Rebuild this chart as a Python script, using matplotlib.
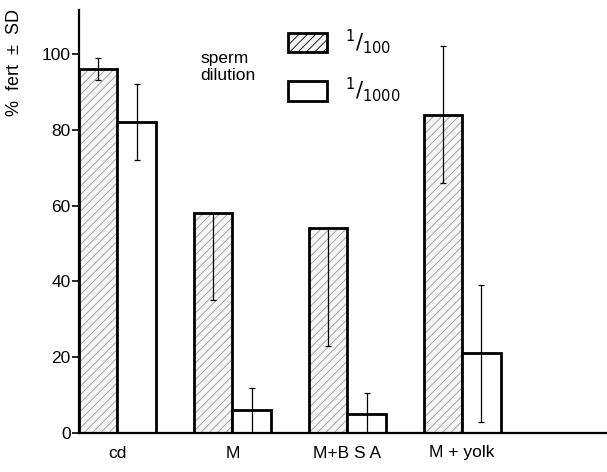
import numpy as np
import matplotlib
matplotlib.use("Agg")
import matplotlib.pyplot as plt
from matplotlib.patches import Patch

plt.rcParams['font.family'] = ['Liberation Sans', 'DejaVu Sans']
plt.rcParams['hatch.linewidth'] = 0.6

groups = ["cd", "M", "M+B S A", "M + yolk"]
pct_100 = [96, 58, 54, 84]
sd_100_lo = [3, 23, 31, 18]
sd_100_hi = [3, 0, 0, 18]
pct_1000 = [82, 6, 5, 21]
sd_1000 = [10, 6, 5.5, 18]

x = np.arange(len(groups))
w = 0.335

fig = plt.figure(figsize=(6.07, 4.72), dpi=100)
ax = fig.add_axes([79 / 607, 39 / 472, 1 - 79 / 607, 423 / 472])

# hatched 1/100 bars: hatch layer then thick outline
ax.bar(x - w / 2, pct_100, w, color='#f5f5f5', edgecolor='#999999',
       hatch='////', linewidth=0)
ax.bar(x - w / 2, pct_100, w, fill=False, edgecolor='black', linewidth=2)
ax.bar(x + w / 2, pct_1000, w, color='white', edgecolor='black', linewidth=2)

ax.errorbar(x - w / 2, pct_100, yerr=[sd_100_lo, sd_100_hi], fmt='none',
            ecolor='black', elinewidth=0.9, capsize=2.5, capthick=0.9, zorder=3)
ax.errorbar(x + w / 2, pct_1000, yerr=sd_1000, fmt='none',
            ecolor='black', elinewidth=0.9, capsize=2.5, capthick=0.9, zorder=3)

ax.set_xlim(-w, 4.26)
ax.set_ylim(0, 111.6)
ax.set_yticks([0, 20, 40, 60, 80, 100])
ax.set_xticks(x)
ax.set_xticklabels(groups, fontsize=12.5)
ax.tick_params(axis='x', length=0, pad=9)
ax.tick_params(axis='y', length=5, width=1.2, pad=1, labelsize=12.5)

for s in ['top', 'right']:
    ax.spines[s].set_visible(False)
ax.spines['left'].set_linewidth(1.6)
ax.spines['bottom'].set_linewidth(1.6)

fig.text(15 / 607, 1 - 62 / 472, "%  fert  ±  SD", rotation=90,
         ha='center', va='center', fontsize=13)

handles = [Patch(facecolor='#f5f5f5', edgecolor='black', hatch='////', linewidth=2),
           Patch(facecolor='white', edgecolor='black', linewidth=2)]
ax.legend(handles, [r'$^{1}/_{100}$', r'$^{1}/_{1000}$'],
          loc='upper left', bbox_to_anchor=(288 / 607, 1 - 27 / 472),
          bbox_transform=fig.transFigure, frameon=False, fontsize=15,
          handlelength=1.85, handleheight=1.05, handletextpad=0.9,
          labelspacing=0.95, borderpad=0, borderaxespad=0)
fig.text(200 / 607, 1 - 67 / 472, "sperm\ndilution", ha='left', va='center',
         fontsize=12.5, linespacing=1.1)

fig.savefig("out.png", dpi=100)
